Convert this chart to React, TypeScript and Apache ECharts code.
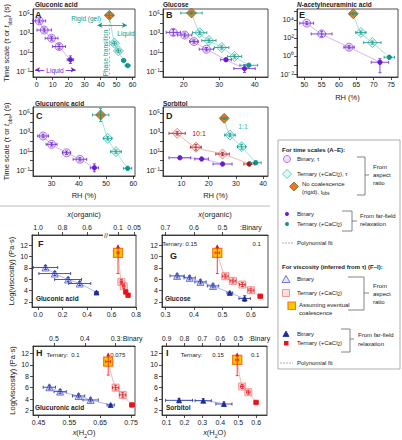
import React, { useEffect, useRef } from "react";
import * as echarts from "echarts";

// ===================== DATA =====================
const aBinOpenRH = [1.6, 4.7, 9.3, 14.0];
const aBinOpenRHErr = [4, 4.5, 4, 4];
const aBinOpenTau = [1.8e4, 2.0e3, 2.8e2, 38];
const aBinOpenTauErr = [1.6, 1.6, 1.6, 1.8];
const aBinFillRH = [21.1];
const aBinFillRHErr = [2];
const aBinFillTau = [1.6];
const aBinFillTauErr = [2.5];
const aTerOpenRH = [48.6, 51.1];
const aTerOpenRHErr = [1.5, 1.5];
const aTerOpenTau = [85, 13.5];
const aTerOpenTauErr = [1.6, 1.6];
const aTerFillRH = [54.4, 56.9];
const aTerFillRHErr = [1.2, 1.5];
const aTerFillTau = [1.35, 0.39];
const aTerFillTauErr = [1.3, 1.3];
const aRigidRH = [45.5];
const aRigidRHErr = [2.5];
const aRigidTobs = [7e4];
const aRigidTobsErr = [1.8];

const bBinOpenRH = [17.1, 20.3, 22.9, 26.4];
const bBinOpenRHErr = [2, 2, 1.2, 2];
const bBinOpenTau = [1.15e3, 6.0e2, 1.26e2, 20];
const bBinOpenTauErr = [2, 1.6, 1.5, 1.5];
const bBinFillRH = [31.9, 37.1];
const bBinFillRHErr = [1.5, 3];
const bBinFillTau = [1.6, 0.19];
const bBinFillTauErr = [1.3, 2.5];
const bTerOpenRH = [24.5, 27.1, 30.7, 34.3];
const bTerOpenRHErr = [2, 2, 2, 2];
const bTerOpenTau = [1.05e3, 1.6e2, 30, 3.5];
const bTerOpenTauErr = [1.5, 1.5, 1.5, 1.5];
const bTerFillRH = [38.3];
const bTerFillRHErr = [2.5];
const bTerFillTau = [0.42];
const bTerFillTauErr = [1.4];
const bRigidRH = [22.2];
const bRigidRHErr = [3];
const bRigidTobs = [1.2e5];
const bRigidTobsErr = [1.3];

const cBinOpenRH = [26.9, 30.0, 35.5, 40.4];
const cBinOpenRHErr = [2, 2, 1.5, 2.5];
const cBinOpenTau = [380, 50, 6.6, 1.35];
const cBinOpenTauErr = [1.5, 1.5, 1.5, 1.5];
const cBinFillRH = [45.7];
const cBinFillRHErr = [1.5];
const cBinFillTau = [0.17];
const cBinFillTauErr = [2.6];
const cTerOpenRH = [50.6, 53.6];
const cTerOpenRHErr = [1.5, 2];
const cTerOpenTau = [214, 8.5];
const cTerOpenTauErr = [1.5, 1.5];
const cTerFillRH = [57.9];
const cTerFillRHErr = [1.5];
const cTerFillTau = [0.15];
const cTerFillTauErr = [1.5];
const cRigidRH = [48.0];
const cRigidRHErr = [3];
const cRigidTobs = [6.2e4];
const cRigidTobsErr = [5];

const dBinFillRH = [9.4, 17.4, 25.1];
const dBinFillRHErr = [4, 2.5, 3.5];
const dBinFillTau = [1.95, 1.45, 0.43];
const dBinFillTauErr = [1.2, 1.2, 1.2];
const d10OpenRH = [8.4, 15.3, 25.1];
const d10OpenRHErr = [3, 2, 2.5];
const d10OpenTau = [720, 25, 4.8];
const d10OpenTauErr = [1.5, 2, 1.5];
const d10FillRH = [34.9];
const d10FillRHErr = [2];
const d10FillTau = [0.43];
const d10FillTauErr = [1.3];
const d11OpenRH = [27.8, 32.1];
const d11OpenRHErr = [2, 1.5];
const d11OpenTau = [480, 28];
const d11OpenTauErr = [1.5, 1.8];
const d11FillRH = [37.3];
const d11FillRHErr = [2];
const d11FillTau = [0.59];
const d11FillTauErr = [1.5];
const dRigidRH = [25.7];
const dRigidRHErr = [1];
const dRigidTobs = [2.75e4];
const dRigidTobsErr = [1.3];

const eBinOpenRH = [50.7, 55.0, 62.9];
const eBinOpenRHErr = [2, 3, 1.5];
const eBinOpenTau = [4.3e3, 275, 9.3];
const eBinOpenTauErr = [1.5, 2, 1.5];
const eBinFillRH = [71.8];
const eBinFillRHErr = [2.5];
const eBinFillTau = [0.2];
const eBinFillTauLo = [0.014];
const eBinFillTauHi = [0.5];
const eTerOpenRH = [66.3, 69.6];
const eTerOpenRHErr = [1.5, 2.5];
const eTerOpenTau = [390, 30];
const eTerOpenTauErr = [1.5, 1.5];
const eTerFillRH = [74.5];
const eTerFillRHErr = [1.5];
const eTerFillTau = [0.72];
const eTerFillTauErr = [1.5];
const eRigidRH = [64.1];
const eRigidRHErr = [1];
const eRigidTobs = [4.7e4];
const eRigidTobsErr = [1.3];

const fBinOpenX = [0.06, 0.136, 0.245, 0.34];
const fBinOpenXErr = [0.1, 0.13, 0.11, 0.09];
const fBinOpenVisc = [8.07, 7.0, 5.95, 5.24];
const fBinOpenViscErr = [0.35, 0.35, 0.35, 0.35];
const fBinFillX = [0.477];
const fBinFillXErr = [0.015];
const fBinFillVisc = [3.65];
const fBinFillViscErr = [0.2];
const fYelX = [0.653];
const fYelVisc = [10.65];
const fYelLo = [7];
const fYelHi = [12];
const fTerOpenX = [0.68, 0.7];
const fTerOpenXErr = [0.01, 0.01];
const fTerOpenVisc = [5.53, 4.77];
const fTerOpenViscErr = [0.4, 0.4];
const fTerFillX = [0.716, 0.735];
const fTerFillXErr = [0.005, 0.005];
const fTerFillVisc = [3.76, 3.18];
const fTerFillViscErr = [0.2, 0.2];

const gBinOpenX = [0.341, 0.385, 0.423, 0.467];
const gBinOpenXErr = [0.025, 0.02, 0.02, 0.02];
const gBinOpenVisc = [6.59, 6.24, 5.53, 4.82];
const gBinOpenViscErr = [0.35, 0.35, 0.35, 0.35];
const gBinFillX = [0.526, 0.578];
const gBinFillXErr = [0.01, 0.02];
const gBinFillVisc = [3.59, 2.6];
const gBinFillViscErr = [0.2, 0.5];
const gYelX = [0.482];
const gYelVisc = [10.65];
const gYelLo = [7];
const gYelHi = [12];
const gTerOpenX = [0.51, 0.537, 0.57, 0.6];
const gTerOpenXErr = [0.01, 0.01, 0.01, 0.01];
const gTerOpenVisc = [6.53, 5.7, 5.06, 4.06];
const gTerOpenViscErr = [0.35, 0.35, 0.35, 0.35];
const gTerFillX = [0.633];
const gTerFillXErr = [0.008];
const gTerFillVisc = [3.0];
const gTerFillViscErr = [0.15];

const hBinOpenX = [0.485, 0.52, 0.58, 0.619];
const hBinOpenXErr = [0.02, 0.02, 0.02, 0.025];
const hBinOpenVisc = [6.07, 5.3, 4.54, 3.84];
const hBinOpenViscErr = [0.35, 0.35, 0.35, 0.35];
const hBinFillX = [0.684];
const hBinFillXErr = [0.012];
const hBinFillVisc = [2.96];
const hBinFillViscErr = [0.15];
const hYelX = [0.676];
const hYelVisc = [10.56];
const hYelLo = [8.2];
const hYelHi = [12];
const hTerOpenX = [0.7, 0.723];
const hTerOpenXErr = [0.01, 0.01];
const hTerOpenVisc = [6.0, 4.72];
const hTerOpenViscErr = [0.4, 0.4];
const hTerFillX = [0.753];
const hTerFillXErr = [0.008];
const hTerFillVisc = [2.96];
const hTerFillViscErr = [0.1];

const iBinFillX = [0.17, 0.305, 0.42];
const iBinFillXErr = [0.075, 0.045, 0.045];
const iBinFillVisc = [3.77, 3.71, 3.13];
const iBinFillViscErr = [0.35, 0.35, 0.35];
const iYelX = [0.494];
const iYelVisc = [10.87];
const iYelLo = [8.1];
const iYelHi = [12];
const iTerOpenX = [0.522, 0.556];
const iTerOpenXErr = [0.01, 0.01];
const iTerOpenVisc = [6.2, 5.2];
const iTerOpenViscErr = [0.35, 0.35];
const iTerFillX = [0.599];
const iTerFillXErr = [0.01];
const iTerFillVisc = [3.4];
const iTerFillViscErr = [0.15];

const xTicksA = [0, 10, 20, 30, 40, 50, 60];
const xTicksB = [20, 30, 40];
const xTicksC = [30, 40, 50, 60];
const xTicksD = [10, 20, 30, 40];
const xTicksE = [50, 55, 60, 65, 70, 75];
const xTicksF = [0, 0.2, 0.4, 0.6, 0.8];
const xTicksG = [0.3, 0.4, 0.5, 0.6];
const xTicksH = [0.45, 0.55, 0.65, 0.75];
const xTicksI = [0.1, 0.2, 0.3, 0.4, 0.5, 0.6];
const decadeTicks = [-1, 0, 1, 2, 3, 4, 5];
const decadeLabels = [-1, 1, 3, 5];
const decadeTicksE = [-2, -1, 0, 1, 2, 3, 4, 5];
const decadeLabelsE = [-2, 0, 2, 4];
const viscTicks = [2, 4, 6, 8, 10, 12];
const fOrgPos = [0, 0.2, 0.4, 0.653, 0.785];
const fOrgLabels = ["1.0", "0.8", "0.6", "0.1", "0.05"];
const gOrgPos = [0.3, 0.4, 0.5, 0.6];
const gOrgLabels = ["0.7", "0.6", "0.5", ":Binary"];
const hOrgPos = [0.5, 0.6, 0.7, 0.752];
const hOrgLabels = ["0.5", "0.4", "0.3", ":Binary"];
const iOrgPos = [0.1, 0.2, 0.3, 0.4, 0.5, 0.617];
const iOrgLabels = ["0.9", "0.8", "0.7", "0.6", "0.5", ":Binary"];
const gTerPos = [0.35, 0.62];
const gTerLabels = ["Ternary: 0.15", "0.1"];
const hTerPos = [0.511, 0.57, 0.707];
const hTerLabels = ["Ternary:", "0.1", "0.075"];
const iTerPos = [0.24, 0.387, 0.594];
const iTerLabels = ["Ternary:", "0.15", "0.1"];

// ===================== STYLE / LAYOUT =====================
const FONT = "'Liberation Sans', Arial, Helvetica, sans-serif";
const INK = "#222";
const COL = {
  purple: "#a052e8", purpleFill: "rgba(176,120,235,0.22)", purpleDark: "#6a1ed0", purpleFit: "#c4a2f0",
  teal: "#3cc0b2", tealFill: "rgba(100,210,200,0.18)", tealDark: "#0f978a", tealFit: "#8adcd3",
  orange: "#ea7a1e", orangeBorder: "#6f6a4a",
  red: "#e06a6a", redFill: "rgba(240,140,140,0.2)", redDark: "#a81414", redFit: "#eaa4a4",
  blue: "#4d55d6", blueFill: "rgba(110,115,230,0.18)", blueDark: "#1c2c9c", blueFit: "#9ca2ea",
  pink: "#f07f7f", pinkFill: "rgba(245,150,150,0.3)", redV: "#e8141a", redVFit: "#f2a2a2",
  yellow: "#ffc800", yellowBorder: "#f47a1c",
};
const GRIDS = [
  { left: 33, top: 9, width: 102, height: 68 },
  { left: 163, top: 9, width: 105, height: 68 },
  { left: 33, top: 107, width: 102, height: 69 },
  { left: 163, top: 107, width: 105, height: 69 },
  { left: 297, top: 9, width: 101, height: 68 },
  { left: 32, top: 235, width: 104, height: 72 },
  { left: 162, top: 235, width: 106, height: 72 },
  { left: 33, top: 346, width: 102, height: 69 },
  { left: 162, top: 346, width: 105, height: 69 },
];
const XR = [[-2.3, 61.5], [14.2, 43.7], [23.2, 60.6], [3.2, 41.8], [47.9, 77], [-0.05, 0.8], [0.288, 0.66], [0.432, 0.763], [0.075, 0.66]];
const YR = [[-1.6, 5.5], [-1.6, 5.5], [-1.63, 5.63], [-1.63, 5.63], [-2.33, 5.2], [1.1, 13.8], [1.1, 13.8], [1.2, 13.3], [1.2, 13.3]];

const L = Math.log10;
type P = number[][];
const tp = (x: number[], xe: number[], t: number[], tf: number[]): P =>
  x.map((v, i) => [v, L(t[i]), v - xe[i], v + xe[i], L(t[i] / tf[i]), L(t[i] * tf[i])]);
const tpLH = (x: number[], xe: number[], t: number[], lo: number[], hi: number[]): P =>
  x.map((v, i) => [v, L(t[i]), v - xe[i], v + xe[i], L(lo[i]), L(hi[i])]);
const vp = (x: number[], xe: number[], y: number[], ye: number[]): P =>
  x.map((v, i) => [v, y[i], v - xe[i], v + xe[i], y[i] - ye[i], y[i] + ye[i]]);
const yp = (x: number[], y: number[], lo: number[], hi: number[]): P =>
  x.map((v, i) => [v, y[i], v - 0.008, v + 0.008, lo[i], hi[i]]);
const byX = (...arrs: P[]) =>
  ([] as P).concat(...arrs).sort((a, b) => a[0] - b[0]).map((p) => [p[0], p[1]]);

const KIND: Record<string, any> = {
  binOpen: { symbol: "circle", size: 8, fill: COL.purpleFill, stroke: COL.purple, err: COL.purpleDark },
  binFill: { symbol: "circle", size: 4.5, fill: COL.purpleDark, stroke: COL.purpleDark, err: COL.purpleDark },
  terOpen: { symbol: "diamond", size: 10, fill: COL.tealFill, stroke: COL.teal, err: COL.tealDark },
  terFill: { symbol: "circle", size: 4.5, fill: COL.tealDark, stroke: COL.tealDark, err: COL.tealDark },
  rigid: { symbol: "diamond", size: 10, fill: COL.orange, stroke: COL.orangeBorder, err: COL.tealDark },
  redOpen: { symbol: "diamond", size: 10, fill: COL.redFill, stroke: COL.red, err: COL.redDark },
  redFill: { symbol: "circle", size: 4.5, fill: COL.redDark, stroke: COL.redDark, err: COL.redDark },
  vBinOpen: { symbol: "triangle", size: 7, fill: COL.blueFill, stroke: COL.blue, err: COL.blueDark },
  vBinFill: { symbol: "triangle", size: 5, fill: COL.blueDark, stroke: COL.blueDark, err: COL.blueDark },
  vTerOpen: { symbol: "rect", size: 7, fill: COL.pinkFill, stroke: COL.pink, err: COL.redV },
  vTerFill: { symbol: "rect", size: 4.5, fill: COL.redV, stroke: COL.redV, err: COL.redV },
  vYel: { symbol: "rect", size: 9, fill: COL.yellow, stroke: COL.yellowBorder, err: COL.redV, arrow: true, bw: 1.3 },
};

function errSeries(g: number, data: P, color: string, arrow: boolean) {
  return {
    type: "custom", xAxisIndex: g, yAxisIndex: g, data, z: 4, silent: true, clip: false,
    encode: { x: 0, y: 1 },
    renderItem: (_p: any, api: any) => {
      const x = api.value(0), y = api.value(1);
      const c = api.coord([x, y]);
      const a = api.coord([api.value(2), y]);
      const b = api.coord([api.value(3), y]);
      const d = api.coord([x, api.value(4)]);
      const e = api.coord([x, api.value(5)]);
      const st = { stroke: color, lineWidth: 0.8 };
      const ln = (x1: number, y1: number, x2: number, y2: number) => ({ type: "line", shape: { x1, y1, x2, y2 }, style: st });
      const ch: any[] = [];
      if (Math.abs(b[0] - a[0]) > 1) {
        ch.push(ln(a[0], c[1], b[0], c[1]), ln(a[0], c[1] - 1.5, a[0], c[1] + 1.5), ln(b[0], c[1] - 1.5, b[0], c[1] + 1.5));
      }
      if (Math.abs(d[1] - e[1]) > 1) {
        ch.push(ln(c[0], d[1], c[0], e[1]), ln(c[0] - 1.5, d[1], c[0] + 1.5, d[1]));
        if (arrow) {
          ch.push({ type: "polygon", shape: { points: [[c[0], e[1] - 1], [c[0] - 2, e[1] + 3], [c[0] + 2, e[1] + 3]] }, style: { fill: color } });
        } else {
          ch.push(ln(c[0] - 1.5, e[1], c[0] + 1.5, e[1]));
        }
      }
      return { type: "group", children: ch };
    },
  };
}
function markSeries(g: number, data: P, k: any) {
  return {
    type: "scatter", xAxisIndex: g, yAxisIndex: g, silent: true, z: 3,
    data: data.map((p) => [p[0], p[1]]), symbol: k.symbol, symbolSize: k.size,
    itemStyle: { color: k.fill, borderColor: k.stroke, borderWidth: k.bw || 0.8, opacity: 1 },
  };
}
function grp(g: number, data: P, kind: string) {
  const k = KIND[kind];
  return [markSeries(g, data, k), errSeries(g, data, k.err, !!k.arrow)];
}
function fit(g: number, data: number[][], color: string, extra: any = {}) {
  return {
    type: "line", xAxisIndex: g, yAxisIndex: g, data, smooth: 0.35, symbol: "none", silent: true, z: 2,
    lineStyle: { color, width: 0.8 }, ...extra,
  };
}

const SUP: Record<string, string> = { "-": "⁻", "0": "⁰", "1": "¹", "2": "²", "3": "³", "4": "⁴", "5": "⁵", "6": "⁶" };
const pow10 = (v: number) => "10" + String(Math.round(v)).split("").map((c) => SUP[c] || c).join("");

const txtBase = { fontFamily: FONT, color: INK };
const richName = {
  n: { fontSize: 7.5, lineHeight: 10, verticalAlign: "top", fontFamily: FONT, color: INK },
  i: { fontSize: 7.5, lineHeight: 10, verticalAlign: "top", fontStyle: "italic", fontFamily: FONT, color: INK },
  u: { fontSize: 5, lineHeight: 5, verticalAlign: "bottom", fontFamily: FONT, color: INK },
};
const axLine = { show: true, onZero: false, lineStyle: { color: INK, width: 0.8 } };
const tickStyle = { color: INK, width: 0.8 };
const withName = (name: string | undefined, gap: number) =>
  name
    ? { name, nameLocation: "middle", nameGap: gap, nameTextStyle: { fontSize: 7.5, ...txtBase, rich: richName } }
    : {};

function xMain(g: number, ticks: number[], dec: number, name?: string, gap?: number, margin = 4) {
  return {
    type: "value", gridIndex: g, position: "bottom", min: XR[g][0], max: XR[g][1],
    axisLine: axLine,
    axisTick: { show: true, customValues: ticks, length: 3, lineStyle: tickStyle },
    axisLabel: {
      show: true, customValues: ticks, formatter: (v: number) => v.toFixed(dec), fontSize: 7, margin,
      hideOverlap: false, interval: 0, showMinLabel: true, showMaxLabel: true, ...txtBase,
    },
    splitLine: { show: false },
    ...withName(name, gap || 15),
  };
}
function xTop(g: number, pos: number[], labels: string[], tickN: number, name?: string) {
  const tv = pos.slice(0, tickN);
  return {
    type: "value", gridIndex: g, position: "top", min: XR[g][0], max: XR[g][1],
    axisLine: axLine,
    axisTick: { show: true, customValues: tv, length: 3, lineStyle: tickStyle },
    axisLabel: {
      show: true, customValues: pos, fontSize: 7, margin: 4, hideOverlap: false, ...txtBase,
      formatter: (v: number) => labels[pos.findIndex((u) => Math.abs(u - v) < 1e-9)] ?? "",
    },
    splitLine: { show: false },
    ...withName(name, 15),
  };
}
function xTer(g: number, pos: number[], labels: string[]) {
  return {
    type: "value", gridIndex: g, position: "top", min: XR[g][0], max: XR[g][1],
    axisLine: { show: false, onZero: false },
    axisTick: { show: false },
    axisLabel: {
      show: true, inside: true, customValues: pos, fontSize: 6, margin: 6, hideOverlap: false, ...txtBase,
      formatter: (v: number) => labels[pos.findIndex((u) => Math.abs(u - v) < 1e-9)] ?? "",
    },
    splitLine: { show: false },
  };
}
function yLog(g: number, ticks: number[], labels: number[], name?: string) {
  return {
    type: "value", gridIndex: g, min: YR[g][0], max: YR[g][1],
    axisLine: axLine,
    axisTick: { show: true, customValues: ticks, length: 3, lineStyle: tickStyle },
    axisLabel: {
      show: true, customValues: labels, margin: 3, hideOverlap: false, ...txtBase, fontSize: 7.5,
      formatter: (v: number) => pow10(v),
    },
    splitLine: { show: false },
    ...withName(name, 19),
  };
}
function yVisc(g: number, name?: string) {
  return {
    type: "value", gridIndex: g, min: YR[g][0], max: YR[g][1],
    axisLine: axLine,
    axisTick: { show: true, customValues: viscTicks, length: 3, lineStyle: tickStyle },
    axisLabel: { show: true, customValues: viscTicks, fontSize: 7, margin: 4, hideOverlap: false, ...txtBase },
    splitLine: { show: false },
    ...withName(name, 15),
  };
}

function T(x: number, y: number, text: string, o: any = {}) {
  const { rotation, ...st } = o;
  return {
    type: "text", x, y, silent: true, rotation: rotation || 0, z: 20,
    style: {
      text, fontSize: 6, fontFamily: FONT, fill: INK, align: "left", verticalAlign: "middle",
      lineHeight: 8,
      rich: {
        u: { fontSize: 4.5, lineHeight: 5, verticalAlign: "bottom", fontFamily: FONT, fill: INK },
        i: { fontSize: o.fontSize || 6, fontStyle: "italic", fontWeight: o.fontWeight || "normal", fontFamily: FONT, fill: o.fill || INK },
      },
      ...st,
    },
  };
}
const LN = (pts: number[][], stroke = "#666", extra: any = {}) => ({
  type: "polyline", silent: true, z: 20, shape: { points: pts }, style: { stroke, lineWidth: 0.8, fill: "none", ...extra },
});
const POLY = (pts: number[][], fill: string, stroke: string, lw = 0.8) => ({
  type: "polygon", silent: true, z: 20, shape: { points: pts }, style: { fill, stroke, lineWidth: lw },
});

function buildOption() {
  const aBO = tp(aBinOpenRH, aBinOpenRHErr, aBinOpenTau, aBinOpenTauErr);
  const aBF = tp(aBinFillRH, aBinFillRHErr, aBinFillTau, aBinFillTauErr);
  const aTO = tp(aTerOpenRH, aTerOpenRHErr, aTerOpenTau, aTerOpenTauErr);
  const aTF = tp(aTerFillRH, aTerFillRHErr, aTerFillTau, aTerFillTauErr);
  const aR = tp(aRigidRH, aRigidRHErr, aRigidTobs, aRigidTobsErr);
  const bBO = tp(bBinOpenRH, bBinOpenRHErr, bBinOpenTau, bBinOpenTauErr);
  const bBF = tp(bBinFillRH, bBinFillRHErr, bBinFillTau, bBinFillTauErr);
  const bTO = tp(bTerOpenRH, bTerOpenRHErr, bTerOpenTau, bTerOpenTauErr);
  const bTF = tp(bTerFillRH, bTerFillRHErr, bTerFillTau, bTerFillTauErr);
  const bR = tp(bRigidRH, bRigidRHErr, bRigidTobs, bRigidTobsErr);
  const cBO = tp(cBinOpenRH, cBinOpenRHErr, cBinOpenTau, cBinOpenTauErr);
  const cBF = tp(cBinFillRH, cBinFillRHErr, cBinFillTau, cBinFillTauErr);
  const cTO = tp(cTerOpenRH, cTerOpenRHErr, cTerOpenTau, cTerOpenTauErr);
  const cTF = tp(cTerFillRH, cTerFillRHErr, cTerFillTau, cTerFillTauErr);
  const cR = tp(cRigidRH, cRigidRHErr, cRigidTobs, cRigidTobsErr);
  const dBF = tp(dBinFillRH, dBinFillRHErr, dBinFillTau, dBinFillTauErr);
  const d10O = tp(d10OpenRH, d10OpenRHErr, d10OpenTau, d10OpenTauErr);
  const d10F = tp(d10FillRH, d10FillRHErr, d10FillTau, d10FillTauErr);
  const d11O = tp(d11OpenRH, d11OpenRHErr, d11OpenTau, d11OpenTauErr);
  const d11F = tp(d11FillRH, d11FillRHErr, d11FillTau, d11FillTauErr);
  const dR = tp(dRigidRH, dRigidRHErr, dRigidTobs, dRigidTobsErr);
  const eBO = tp(eBinOpenRH, eBinOpenRHErr, eBinOpenTau, eBinOpenTauErr);
  const eBF = tpLH(eBinFillRH, eBinFillRHErr, eBinFillTau, eBinFillTauLo, eBinFillTauHi);
  const eTO = tp(eTerOpenRH, eTerOpenRHErr, eTerOpenTau, eTerOpenTauErr);
  const eTF = tp(eTerFillRH, eTerFillRHErr, eTerFillTau, eTerFillTauErr);
  const eR = tp(eRigidRH, eRigidRHErr, eRigidTobs, eRigidTobsErr);
  const fBO = vp(fBinOpenX, fBinOpenXErr, fBinOpenVisc, fBinOpenViscErr);
  const fBF = vp(fBinFillX, fBinFillXErr, fBinFillVisc, fBinFillViscErr);
  const fY = yp(fYelX, fYelVisc, fYelLo, fYelHi);
  const fTO = vp(fTerOpenX, fTerOpenXErr, fTerOpenVisc, fTerOpenViscErr);
  const fTF = vp(fTerFillX, fTerFillXErr, fTerFillVisc, fTerFillViscErr);
  const gBO = vp(gBinOpenX, gBinOpenXErr, gBinOpenVisc, gBinOpenViscErr);
  const gBF = vp(gBinFillX, gBinFillXErr, gBinFillVisc, gBinFillViscErr);
  const gY = yp(gYelX, gYelVisc, gYelLo, gYelHi);
  const gTO = vp(gTerOpenX, gTerOpenXErr, gTerOpenVisc, gTerOpenViscErr);
  const gTF = vp(gTerFillX, gTerFillXErr, gTerFillVisc, gTerFillViscErr);
  const hBO = vp(hBinOpenX, hBinOpenXErr, hBinOpenVisc, hBinOpenViscErr);
  const hBF = vp(hBinFillX, hBinFillXErr, hBinFillVisc, hBinFillViscErr);
  const hY = yp(hYelX, hYelVisc, hYelLo, hYelHi);
  const hTO = vp(hTerOpenX, hTerOpenXErr, hTerOpenVisc, hTerOpenViscErr);
  const hTF = vp(hTerFillX, hTerFillXErr, hTerFillVisc, hTerFillViscErr);
  const iBF = vp(iBinFillX, iBinFillXErr, iBinFillVisc, iBinFillViscErr);
  const iY = yp(iYelX, iYelVisc, iYelLo, iYelHi);
  const iTO = vp(iTerOpenX, iTerOpenXErr, iTerOpenVisc, iTerOpenViscErr);
  const iTF = vp(iTerFillX, iTerFillXErr, iTerFillVisc, iTerFillViscErr);

  const arrowML = (color: string, data: any[]) => ({
    silent: true, symbol: ["arrow", "arrow"], symbolSize: [4, 5], label: { show: false },
    lineStyle: { color, width: 0.8, type: "solid" }, emphasis: { disabled: true }, data,
  });

  const series: any[] = [
    fit(0, byX(aBO, aBF), COL.purpleFit, {
      markLine: arrowML(COL.purpleDark, [[{ coord: [-1, -0.85] }, { coord: [24.4, -0.85] }]]),
    }),
    fit(0, byX(aR, aTO, aTF), COL.tealFit, {
      markLine: arrowML(COL.tealDark, [
        [{ coord: [38, 3.8] }, { coord: [56.5, 3.8] }],
        [
          { coord: [45.6, 4.3], symbol: "none", lineStyle: { type: [2, 2], color: COL.teal, width: 0.8 } },
          { coord: [45.6, -1.6], symbol: "none", lineStyle: { type: [2, 2], color: COL.teal, width: 0.8 } },
        ],
      ]),
    }),
    ...grp(0, aBO, "binOpen"), ...grp(0, aBF, "binFill"), ...grp(0, aTO, "terOpen"), ...grp(0, aTF, "terFill"), ...grp(0, aR, "rigid"),
    fit(1, byX(bBO, bBF), COL.purpleFit), fit(1, byX(bR, bTO, bTF), COL.tealFit),
    ...grp(1, bBO, "binOpen"), ...grp(1, bBF, "binFill"), ...grp(1, bTO, "terOpen"), ...grp(1, bTF, "terFill"), ...grp(1, bR, "rigid"),
    fit(2, byX(cBO, cBF), COL.purpleFit), fit(2, byX(cR, cTO, cTF), COL.tealFit),
    ...grp(2, cBO, "binOpen"), ...grp(2, cBF, "binFill"), ...grp(2, cTO, "terOpen"), ...grp(2, cTF, "terFill"), ...grp(2, cR, "rigid"),
    fit(3, byX(dBF), COL.purpleFit), fit(3, byX(d10O, d10F), COL.redFit), fit(3, byX(dR, d11O, d11F), COL.tealFit),
    ...grp(3, dBF, "binFill"), ...grp(3, d10O, "redOpen"), ...grp(3, d10F, "redFill"), ...grp(3, d11O, "terOpen"), ...grp(3, d11F, "terFill"), ...grp(3, dR, "rigid"),
    fit(4, byX(eBO, eBF), COL.purpleFit), fit(4, byX(eR, eTO, eTF), COL.tealFit),
    ...grp(4, eBO, "binOpen"), ...grp(4, eBF, "binFill"), ...grp(4, eTO, "terOpen"), ...grp(4, eTF, "terFill"), ...grp(4, eR, "rigid"),
    fit(5, byX(fBO, fBF), COL.blueFit), fit(5, byX(fY, fTO, fTF), COL.redVFit),
    ...grp(5, fBO, "vBinOpen"), ...grp(5, fBF, "vBinFill"), ...grp(5, fTO, "vTerOpen"), ...grp(5, fTF, "vTerFill"), ...grp(5, fY, "vYel"),
    fit(6, byX(gBO, gBF), COL.blueFit), fit(6, byX(gY, gTO, gTF), COL.redVFit),
    ...grp(6, gBO, "vBinOpen"), ...grp(6, gBF, "vBinFill"), ...grp(6, gTO, "vTerOpen"), ...grp(6, gTF, "vTerFill"), ...grp(6, gY, "vYel"),
    fit(7, byX(hBO, hBF), COL.blueFit), fit(7, byX(hY, hTO, hTF), COL.redVFit),
    ...grp(7, hBO, "vBinOpen"), ...grp(7, hBF, "vBinFill"), ...grp(7, hTO, "vTerOpen"), ...grp(7, hTF, "vTerFill"), ...grp(7, hY, "vYel"),
    fit(8, byX(iBF), COL.blueFit), fit(8, byX(iY, iTO, iTF), COL.redVFit),
    ...grp(8, iBF, "vBinFill"), ...grp(8, iTO, "vTerOpen"), ...grp(8, iTF, "vTerFill"), ...grp(8, iY, "vYel"),
  ];

  const tauName = "{n|Time scale (τ or }{i|t}{u|obs}{n|) (s)}";
  const rhName = "{n|RH (%)}";
  const viscName = "{n|Log(viscosity) (Pa·s)}";
  const h2oName = "{i|x}{n|(H}{u|2}{n|O)}";
  const orgName = "{i|x}{n|(organic)}";

  const xAxis = [
    xMain(0, xTicksA, 0), xMain(1, xTicksB, 0), xMain(2, xTicksC, 0, rhName, 15), xMain(3, xTicksD, 0, rhName, 15),
    xMain(4, xTicksE, 0, rhName, 16), xMain(5, xTicksF, 1), xMain(6, xTicksG, 1), xMain(7, xTicksH, 2, h2oName, 13),
    xMain(8, xTicksI, 1, h2oName, 13),
    xTop(5, fOrgPos, fOrgLabels, 5, orgName), xTop(6, gOrgPos, gOrgLabels, 3, orgName), xTop(7, hOrgPos, hOrgLabels, 3),
    xTop(8, iOrgPos, iOrgLabels, 5),
    xTer(6, gTerPos, gTerLabels), xTer(7, hTerPos, hTerLabels), xTer(8, iTerPos, iTerLabels),
  ];
  const yAxis = [
    yLog(0, decadeTicks, decadeLabels, tauName), yLog(1, decadeTicks, decadeLabels), yLog(2, decadeTicks, decadeLabels, tauName),
    yLog(3, decadeTicks, decadeLabels), yLog(4, decadeTicksE, decadeLabelsE),
    yVisc(5, viscName), yVisc(6), yVisc(7, viscName), yVisc(8),
  ];
  const grid = GRIDS.map((g) => ({
    ...g, show: true, borderColor: INK, borderWidth: 0.8, backgroundColor: "transparent", containLabel: false, outerBoundsMode: "none",
  }));

  const bold = { fontWeight: "bold", fontSize: 6.5 };
  const letter = { fontWeight: "bold", fontSize: 9 };
  const graphic: any[] = [
    T(35, 4, "Gluconic acid", bold), T(163, 4, "Glucose", bold),
    T(297, 4, "{i|N}-acetylneuraminic acid", bold), T(35, 103, "Glucuronic acid", bold), T(163, 103, "Sorbitol", bold),
    T(35, 15, "A", letter), T(166, 15, "B", letter), T(36, 116, "C", letter), T(166, 116, "D", letter), T(299, 15, "E", letter),
    T(38, 244, "F", letter), T(170, 256, "G", letter), T(36, 353, "H", letter), T(166, 353, "I", letter),
    T(36, 298, "Gluconic acid", bold), T(165, 298, "Glucose", bold), T(35, 407, "Glucuronic acid", bold), T(166, 407, "Sorbitol", bold),
    T(86, 18, "Rigid (gel)", { fill: COL.tealDark, align: "center", fontSize: 6.5 }),
    T(126, 33, "Liquid", { fill: COL.tealDark, align: "center", fontSize: 6.5 }),
    T(105, 53, "Phase transition", { fill: COL.tealDark, align: "center", fontSize: 6.5, rotation: Math.PI / 2 }),
    T(55, 70, "Liquid", { fill: COL.purpleDark, align: "center", fontSize: 6.5, backgroundColor: "#fff", padding: [0, 2] }),
    T(199, 133, "10:1", { fill: COL.redDark, align: "center", fontSize: 7 }),
    T(243, 126, "1:1", { fill: COL.teal, align: "center", fontSize: 7 }),
    T(106, 235, "//", { align: "center", fontSize: 7, backgroundColor: "#fff", padding: [0, 1] }),
    LN([[0, 206], [270, 206]], "#aaa"),
    { type: "rect", silent: true, z: 19, shape: { x: 278, y: 140, width: 122, height: 229 }, style: { fill: "#fff", stroke: "#999", lineWidth: 0.8 } },
    T(282, 150, "For time scales (A–E):", { fontWeight: "bold" }),
    { type: "circle", silent: true, z: 20, shape: { cx: 287, cy: 159, r: 3.5 }, style: { fill: COL.purpleFill, stroke: COL.purple, lineWidth: 0.8 } },
    T(297, 159, "Binary, τ"),
    POLY([[287, 169.5], [291.5, 174], [287, 178.5], [282.5, 174]], COL.tealFill, COL.teal),
    T(297, 174, "Ternary (+CaCl{u|2}), τ"),
    POLY([[294, 182], [298.5, 186.5], [294, 191], [289.5, 186.5]], COL.orange, COL.orangeBorder),
    T(302, 184, "No coalescence"), T(302, 192, "(rigid), t{u|obs}"),
    LN([[357, 157], [365, 157], [365, 195], [357, 195]]), LN([[365, 175], [369, 175]]),
    T(373, 167, "From"), T(373, 175, "aspect"), T(373, 183, "ratio"),
    { type: "circle", silent: true, z: 20, shape: { cx: 287, cy: 214, r: 2 }, style: { fill: COL.purpleDark } },
    T(297, 214, "Binary"),
    { type: "circle", silent: true, z: 20, shape: { cx: 287, cy: 224, r: 2 }, style: { fill: COL.tealDark } },
    T(297, 224, "Ternary (+CaCl{u|2})"),
    LN([[342, 211], [352, 211], [352, 231], [342, 231]]), LN([[352, 221], [357, 221]]),
    T(360, 216, "From far-field"), T(360, 224, "relaxation"),
    LN([[282, 243], [293, 243]], "#999", { lineDash: [2, 1] }),
    T(297, 243, "Polynomial fit"),
    T(282, 267, "For viscosity (inferred from τ) (F–I):", { fontWeight: "bold" }),
    POLY([[286, 275.5], [290, 282.5], [282, 282.5]], COL.blueFill, COL.blue),
    T(297, 279, "Binary"),
    { type: "rect", silent: true, z: 20, shape: { x: 282.5, y: 289.5, width: 7, height: 7 }, style: { fill: COL.pinkFill, stroke: COL.pink, lineWidth: 0.8 } },
    T(297, 293, "Ternary (+CaCl{u|2})"),
    { type: "rect", silent: true, z: 20, shape: { x: 288, y: 302, width: 7.5, height: 7.5 }, style: { fill: COL.yellow, stroke: COL.yellowBorder, lineWidth: 1.2 } },
    T(299, 305, "Assuming eventual"), T(299, 313, "coalescence"),
    LN([[348, 277], [364, 277], [364, 310], [348, 310]]), LN([[364, 293], [369, 293]]),
    T(373, 286, "From"), T(373, 294, "aspect"), T(373, 302, "ratio"),
    POLY([[286, 331], [289, 336.5], [283, 336.5]], COL.blueDark, COL.blueDark),
    T(297, 334, "Binary"),
    { type: "rect", silent: true, z: 20, shape: { x: 284, y: 341, width: 4.5, height: 4.5 }, style: { fill: COL.redV } },
    T(297, 343, "Ternary (+CaCl{u|2})"),
    LN([[341, 329], [350, 329], [350, 352], [341, 352]]), LN([[350, 339], [354, 339]]),
    T(358, 335, "From far-field"), T(358, 344, "relaxation"),
    LN([[280, 363], [293, 363]], "#999", { lineDash: [2, 1] }),
    T(297, 363, "Polynomial fit"),
  ];

  return {
    animation: false,
    backgroundColor: "#fff",
    textStyle: { fontFamily: FONT },
    grid, xAxis, yAxis, series, graphic,
  };
}

export default function App() {
  const ref = useRef<HTMLDivElement>(null);
  useEffect(() => {
    const chart = echarts.init(ref.current!, undefined, { renderer: "svg", width: 402, height: 440 });
    chart.setOption(buildOption() as any);
    return () => chart.dispose();
  }, []);
  return (
    <div
      ref={ref}
      style={{ position: "fixed", left: 0, top: 0, width: 402, height: 440, background: "#fff" }}
    />
  );
}
